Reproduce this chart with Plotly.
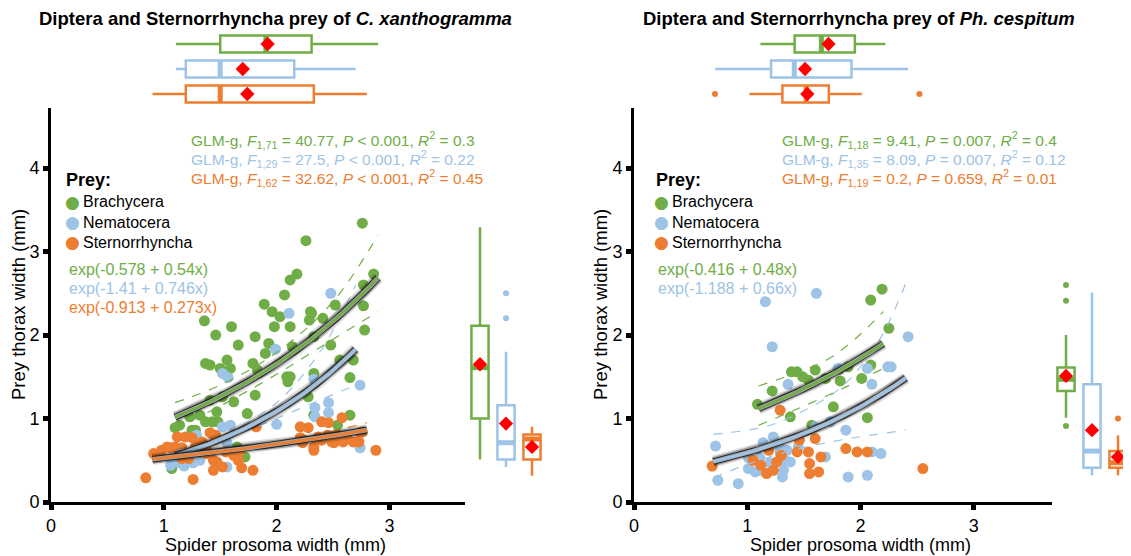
import numpy as np
import plotly.graph_objects as go

# page body has an 8px margin, so the figure is drawn 8px smaller and positions are offset
OFF = 8
W, H = 1131 - OFF, 556 - OFF
GREEN = "#70AD47"
BLUE = "#9DC3E6"
ORANGE = "#ED7D31"
RED = "#FF0000"
FONT = "Liberation Sans, Arial, sans-serif"

categories = ["Brachycera", "Nematocera", "Sternorrhyncha"]
colors = [GREEN, BLUE, ORANGE]

# ---------------- Left panel: C. xanthogramma ----------------
cx_brach_x = [2.76, 2.26, 2.18, 2.12, 2.86, 2.77, 2.07, 2.52, 2.77, 1.89, 1.96, 2.03, 2.30, 2.29, 2.41,
              1.36, 1.60, 1.98, 2.12, 1.46, 1.81, 1.66, 1.93, 1.90, 2.78, 2.33, 2.48, 2.14, 1.37, 1.41,
              1.50, 1.56, 1.59, 1.79, 1.83, 2.12, 2.10, 2.33, 2.56, 2.68, 2.65, 2.28, 1.81, 1.62, 1.41,
              1.52, 1.32, 1.23, 1.47, 1.10, 1.14, 1.37, 1.43, 1.48, 1.28, 2.33, 2.54, 2.65, 1.74, 1.65,
              1.72, 1.07, 1.25, 2.09, 2.31]
cx_brach_y = [3.34, 3.13, 2.73, 2.66, 2.73, 2.60, 2.48, 2.36, 2.35, 2.37, 2.28, 2.22, 2.28, 2.18, 2.20,
              2.17, 2.10, 2.10, 2.10, 2.00, 1.98, 1.88, 1.90, 1.78, 2.06, 1.98, 1.88, 1.86, 1.66, 1.64,
              1.60, 1.70, 1.60, 1.66, 1.58, 1.50, 1.44, 1.54, 1.70, 1.70, 1.49, 1.26, 1.28, 1.20, 1.22,
              1.26, 1.04, 1.02, 1.08, 0.89, 0.92, 0.96, 0.96, 0.96, 0.86, 1.04, 0.92, 1.04, 1.06, 0.66,
              0.54, 0.40, 0.86, 1.50, 2.26]
cx_nemat_x = [2.48, 2.11, 1.99, 1.52, 1.57, 2.33, 2.74, 2.34, 2.46, 2.46, 2.00, 1.52, 1.59, 1.29, 2.74,
              1.56, 1.06, 1.14, 1.26, 1.32, 1.20, 1.56, 2.34, 1.18, 1.09]
cx_nemat_y = [2.50, 2.26, 1.83, 1.54, 1.49, 1.47, 1.40, 1.13, 1.19, 1.07, 0.93, 0.90, 0.92, 0.80, 0.65,
              0.42, 0.44, 0.47, 0.47, 0.50, 0.56, 0.71, 1.02, 0.43, 0.52]
cx_stern_x = [0.84, 1.26, 2.88, 1.06, 1.10, 1.16, 1.12, 1.19, 1.25, 1.44, 1.82, 1.44, 1.52, 1.69, 1.79,
              1.44, 1.32, 1.38, 1.55, 1.62, 1.66, 1.16, 1.22, 1.28, 1.34, 2.21, 2.28, 2.40, 2.46, 2.58,
              2.33, 2.37, 2.45, 2.54, 2.62, 2.51, 2.59, 2.68, 2.76, 2.21, 2.23, 2.73, 0.98, 1.03, 0.91,
              1.32, 1.38, 1.47, 1.65, 1.68, 1.41, 1.46, 2.33, 2.40, 2.49, 2.24, 2.74]
cx_stern_y = [0.29, 0.27, 0.62, 0.65, 0.66, 0.65, 0.78, 0.78, 0.77, 0.80, 0.90, 0.38, 0.42, 0.41, 0.38,
              0.50, 0.60, 0.58, 0.60, 0.56, 0.50, 0.52, 0.52, 0.66, 0.72, 0.90, 0.89, 0.96, 0.95, 1.01,
              0.62, 0.78, 0.80, 0.80, 0.78, 0.71, 0.72, 0.72, 0.84, 0.77, 0.71, 0.72, 0.62, 0.66, 0.58,
              0.68, 0.62, 0.48, 0.54, 0.62, 0.83, 0.80, 0.66, 0.74, 0.72, 0.74, 0.83]

# GLM fits exp(a + b x), with fitted x-range
cx_fit_a = [-0.578, -1.41, -0.913]
cx_fit_b = [0.54, 0.746, 0.273]
cx_fit_xmin = [1.1, 1.1, 0.9]
cx_fit_xmax = [2.9, 2.7, 2.8]
# confidence bands (dashed)
cx_ci_x = [[1.1, 1.5, 2.0, 2.5, 2.9], [1.1, 1.5, 2.0, 2.4, 2.7], [0.9, 1.4, 1.9, 2.4, 2.8]]
cx_ci_up = [[1.19, 1.40, 1.79, 2.40, 3.20], [0.61, 0.78, 1.19, 1.83, 2.60], [0.54, 0.61, 0.69, 0.82, 0.95]]
cx_ci_lo = [[0.88, 1.15, 1.53, 1.95, 2.28], [0.50, 0.72, 1.00, 1.23, 1.40], [0.48, 0.57, 0.65, 0.73, 0.78]]

# box stats: spider prosoma width (top)
cx_top_lf = [1.107, 1.107, 0.90]
cx_top_q1 = [1.50, 1.195, 1.195]
cx_top_med = [1.905, 1.50, 1.50]
cx_top_q3 = [2.31, 2.156, 2.33]
cx_top_uf = [2.90, 2.70, 2.80]
cx_top_mean = [1.92, 1.70, 1.74]
cx_top_out = [[], [], []]
# box stats: prey thorax width (right)
cx_side_lf = [0.51, 0.42, 0.315]
cx_side_q1 = [1.00, 0.51, 0.51]
cx_side_med = [1.61, 0.71, 0.755]
cx_side_q3 = [2.11, 1.16, 0.81]
cx_side_uf = [3.29, 1.80, 0.90]
cx_side_mean = [1.65, 0.94, 0.66]
cx_side_out = [[], [2.50, 2.20], []]

cx_glm = ["GLM-g, <i>F</i><sub>1,71</sub> = 40.77, <i>P</i> &lt; 0.001, <i>R</i><sup>2</sup> = 0.3",
          "GLM-g, <i>F</i><sub>1,29</sub> = 27.5, <i>P</i> &lt; 0.001, <i>R</i><sup>2</sup> = 0.22",
          "GLM-g, <i>F</i><sub>1,62</sub> = 32.62, <i>P</i> &lt; 0.001, <i>R</i><sup>2</sup> = 0.45"]
cx_eq = ["exp(-0.578 + 0.54x)", "exp(-1.41 + 0.746x)", "exp(-0.913 + 0.273x)"]

# ---------------- Right panel: Ph. cespitum ----------------
ph_brach_x = [1.09, 1.22, 1.39, 1.44, 1.49, 1.54, 1.60, 1.69, 1.81, 1.89, 1.82, 2.01, 2.09, 1.38, 1.57,
              1.76, 2.06, 2.19, 2.09, 2.25]
ph_brach_y = [1.17, 1.33, 1.56, 1.56, 1.50, 1.46, 1.58, 1.48, 1.59, 1.62, 1.45, 1.48, 1.64, 1.02, 0.92,
              1.14, 1.01, 2.55, 2.42, 2.08]
ph_nemat_x = [1.16, 1.61, 1.22, 2.42, 2.24, 2.27, 2.06, 1.36, 1.80, 2.10, 0.72, 0.74, 0.92, 1.87, 1.14,
              1.23, 1.01, 1.11, 1.01, 1.07, 1.11, 1.29, 1.35, 1.33, 1.38, 1.32, 1.31, 1.20, 1.69, 1.89,
              2.06, 2.10, 2.18, 1.73, 1.60, 1.45, 1.28]
ph_nemat_y = [2.40, 2.50, 1.86, 1.98, 1.62, 1.62, 1.60, 1.41, 1.60, 1.41, 0.67, 0.26, 0.22, 0.86, 0.71,
              0.78, 0.53, 0.53, 0.40, 0.36, 0.38, 0.59, 0.62, 0.50, 0.48, 0.38, 0.30, 0.47, 0.54, 0.30,
              0.32, 0.60, 0.58, 0.96, 0.90, 0.66, 0.68]
ph_stern_x = [0.69, 1.29, 1.19, 1.26, 1.23, 1.17, 1.44, 1.46, 1.54, 1.55, 1.55, 1.60, 1.65, 1.63, 1.87,
              1.97, 2.06, 2.55, 1.05, 1.30, 1.12]
ph_stern_y = [0.43, 1.10, 0.62, 0.48, 0.38, 0.34, 0.60, 0.74, 0.60, 0.46, 0.34, 0.76, 0.54, 0.36, 0.64,
              0.60, 0.60, 0.40, 0.50, 0.56, 0.44]

ph_fit_a = [-0.416, -1.188]
ph_fit_b = [0.48, 0.66]
ph_fit_xmin = [1.1, 0.7]
ph_fit_xmax = [2.2, 2.4]
ph_ci_up_x = [[1.1, 1.4, 1.7, 1.95, 2.2], [0.7, 1.15, 1.45, 1.8, 2.0, 2.2, 2.4]]
ph_ci_up = [[1.39, 1.53, 1.70, 1.95, 2.28], [0.81, 0.90, 1.06, 1.34, 1.62, 2.02, 2.62]]
ph_ci_lo_x = [[1.1, 1.4, 1.7, 1.95, 2.2], [0.7, 1.0, 1.4, 1.9, 2.4]]
ph_ci_lo = [[0.92, 1.09, 1.27, 1.43, 1.60], [0.29, 0.45, 0.62, 0.76, 0.86]]

ph_top_lf = [1.116, 0.717, 1.02]
ph_top_q1 = [1.418, 1.21, 1.31]
ph_top_med = [1.654, 1.415, 1.52]
ph_top_q3 = [1.95, 1.92, 1.72]
ph_top_uf = [2.22, 2.418, 2.01]
ph_top_mean = [1.717, 1.51, 1.53]
ph_top_out = [[], [], [0.715, 2.52]]
ph_side_lf = [1.01, 0.32, 0.32]
ph_side_q1 = [1.33, 0.41, 0.41]
ph_side_med = [1.47, 0.61, 0.47]
ph_side_q3 = [1.61, 1.41, 0.61]
ph_side_uf = [2.00, 2.51, 0.80]
ph_side_mean = [1.51, 0.86, 0.54]
ph_side_out = [[2.60, 2.41, 0.91], [], [1.00]]

ph_glm = ["GLM-g, <i>F</i><sub>1,18</sub> = 9.41, <i>P</i> = 0.007, <i>R</i><sup>2</sup> = 0.4",
          "GLM-g, <i>F</i><sub>1,35</sub> = 8.09, <i>P</i> = 0.007, <i>R</i><sup>2</sup> = 0.12",
          "GLM-g, <i>F</i><sub>1,19</sub> = 0.2, <i>P</i> = 0.659, <i>R</i><sup>2</sup> = 0.01"]
ph_eq = ["exp(-0.416 + 0.48x)", "exp(-1.188 + 0.66x)"]

titles = ["Diptera and Sternorrhyncha prey of <i>C. xanthogramma</i>",
          "Diptera and Sternorrhyncha prey of <i>Ph. cespitum</i>"]
x_title = "Spider prosoma width (mm)"
y_title = "Prey thorax width (mm)"
legend_title = "Prey:"

# ---------------- figure ----------------
fig = go.Figure()


def px(v):
    return (v - OFF) / W


def py(v):
    return 1 - (v - OFF) / H


def add_panel(xa, ya, xs, ys, yt, pts, fits, cis_up, cis_lo, top, side):
    for i, (xv, yv) in enumerate(pts):
        fig.add_trace(go.Scatter(x=xv, y=yv, mode="markers", name=categories[i],
                                 marker=dict(color=colors[i], size=11, line=dict(width=0)),
                                 xaxis=xa, yaxis=ya, showlegend=False, hoverinfo="skip"))
    for i, (cx, cy) in enumerate(cis_up):
        fig.add_trace(go.Scatter(x=cx, y=cy, mode="lines",
                                 line=dict(color=colors[i], width=1.2, dash="dash", shape="spline"),
                                 xaxis=xa, yaxis=ya, showlegend=False, hoverinfo="skip"))
    for i, (cx, cy) in enumerate(cis_lo):
        fig.add_trace(go.Scatter(x=cx, y=cy, mode="lines",
                                 line=dict(color=colors[i], width=1.2, dash="dash", shape="spline"),
                                 xaxis=xa, yaxis=ya, showlegend=False, hoverinfo="skip"))
    a_list, b_list, xmin_list, xmax_list = fits
    for i in range(len(a_list)):
        xx = np.linspace(xmin_list[i], xmax_list[i], 60)
        yy = np.exp(a_list[i] + b_list[i] * xx)
        for w, c in [(12, "rgba(0,0,0,0.12)"), (9, "rgba(0,0,0,0.3)"), (6.5, "rgba(25,25,25,0.9)"),
                     (4.6, "rgba(165,165,165,1)")]:
            fig.add_trace(go.Scatter(x=xx, y=yy, mode="lines", line=dict(color=c, width=w),
                                     xaxis=xa, yaxis=ya, showlegend=False, hoverinfo="skip"))
        fig.add_trace(go.Scatter(x=xx, y=yy, mode="lines", line=dict(color=colors[i], width=2.8),
                                 xaxis=xa, yaxis=ya, showlegend=False, hoverinfo="skip"))
    # top boxes (horizontal)
    lf, q1, med, q3, uf, mean, outs = top
    for i in range(3):
        pos = i + 1
        fig.add_trace(go.Box(y=[pos], q1=[q1[i]], median=[med[i]], q3=[q3[i]], lowerfence=[lf[i]],
                             upperfence=[uf[i]], orientation="h", width=0.68, whiskerwidth=0,
                             line=dict(color=colors[i], width=2.5), fillcolor="white",
                             xaxis=xa, yaxis=yt, showlegend=False, hoverinfo="skip"))
        fig.add_trace(go.Scatter(x=[med[i], med[i]], y=[pos - 0.33, pos + 0.33], mode="lines",
                                 line=dict(color=colors[i], width=5), xaxis=xa, yaxis=yt,
                                 showlegend=False, hoverinfo="skip"))
        if outs[i]:
            fig.add_trace(go.Scatter(x=outs[i], y=[pos] * len(outs[i]), mode="markers",
                                     marker=dict(color=colors[i], size=6), xaxis=xa, yaxis=yt,
                                     showlegend=False, hoverinfo="skip"))
    fig.add_trace(go.Scatter(x=mean, y=[1, 2, 3], mode="markers",
                             marker=dict(color=RED, symbol="diamond", size=11), xaxis=xa, yaxis=yt,
                             showlegend=False, hoverinfo="skip"))
    # side boxes (vertical)
    lf, q1, med, q3, uf, mean, outs = side
    for i in range(3):
        pos = i + 1
        fig.add_trace(go.Box(x=[pos], q1=[q1[i]], median=[med[i]], q3=[q3[i]], lowerfence=[lf[i]],
                             upperfence=[uf[i]], orientation="v", width=0.66, whiskerwidth=0,
                             line=dict(color=colors[i], width=2.5), fillcolor="white",
                             xaxis=xs, yaxis=ya, showlegend=False, hoverinfo="skip"))
        fig.add_trace(go.Scatter(x=[pos - 0.32, pos + 0.32], y=[med[i], med[i]], mode="lines",
                                 line=dict(color=colors[i], width=5), xaxis=xs, yaxis=ya,
                                 showlegend=False, hoverinfo="skip"))
        if outs[i]:
            fig.add_trace(go.Scatter(x=[pos] * len(outs[i]), y=outs[i], mode="markers",
                                     marker=dict(color=colors[i], size=6), xaxis=xs, yaxis=ya,
                                     showlegend=False, hoverinfo="skip"))
    fig.add_trace(go.Scatter(x=[1, 2, 3], y=mean, mode="markers",
                             marker=dict(color=RED, symbol="diamond", size=11), xaxis=xs, yaxis=ya,
                             showlegend=False, hoverinfo="skip"))


add_panel("x", "y", "x2", "y", "y2",
          [(cx_brach_x, cx_brach_y), (cx_nemat_x, cx_nemat_y), (cx_stern_x, cx_stern_y)],
          (cx_fit_a, cx_fit_b, cx_fit_xmin, cx_fit_xmax),
          list(zip(cx_ci_x, cx_ci_up)), list(zip(cx_ci_x, cx_ci_lo)),
          (cx_top_lf, cx_top_q1, cx_top_med, cx_top_q3, cx_top_uf, cx_top_mean, cx_top_out),
          (cx_side_lf, cx_side_q1, cx_side_med, cx_side_q3, cx_side_uf, cx_side_mean, cx_side_out))
add_panel("x3", "y3", "x4", "y3", "y4",
          [(ph_brach_x, ph_brach_y), (ph_nemat_x, ph_nemat_y), (ph_stern_x, ph_stern_y)],
          (ph_fit_a, ph_fit_b, ph_fit_xmin, ph_fit_xmax),
          list(zip(ph_ci_up_x, ph_ci_up)), list(zip(ph_ci_lo_x, ph_ci_lo)),
          (ph_top_lf, ph_top_q1, ph_top_med, ph_top_q3, ph_top_uf, ph_top_mean, ph_top_out),
          (ph_side_lf, ph_side_q1, ph_side_med, ph_side_q3, ph_side_uf, ph_side_mean, ph_side_out))

main_x = dict(showline=True, linecolor="black", linewidth=3, ticks="outside", tickvals=[0, 1, 2, 3],
              ticklen=5, tickwidth=5, tickcolor="black", showgrid=False, zeroline=False,
              automargin=False, tickfont=dict(size=18, color="black", family=FONT))
main_y = dict(showline=True, linecolor="black", linewidth=3, ticks="outside", tickvals=[0, 1, 2, 3, 4],
              ticklen=5, tickwidth=5, tickcolor="black", showgrid=False, zeroline=False,
              automargin=False, tickfont=dict(size=18, color="black", family=FONT), range=[0, 4.72])
hidden = dict(visible=False, showgrid=False, zeroline=False, automargin=False)

fig.update_layout(
    template="none",
    width=W, height=H, margin=dict(l=0, r=0, t=0, b=0, pad=0), autosize=False,
    paper_bgcolor="white", plot_bgcolor="white", showlegend=False,
    font=dict(family=FONT, color="black"),
    xaxis=dict(main_x, domain=[px(51), px(465)], range=[0, 3.67], anchor="y"),
    yaxis=dict(main_y, domain=[py(502), py(108)], anchor="x"),
    xaxis2=dict(hidden, domain=[px(467), px(545)], range=[0.5, 3.5], anchor="y"),
    yaxis2=dict(hidden, domain=[py(106.5), py(31.5)], range=[3.5, 0.5], anchor="x"),
    xaxis3=dict(main_x, domain=[px(634), px(1052)], range=[0, 3.69], anchor="y3"),
    yaxis3=dict(main_y, domain=[py(502), py(108)], anchor="x3"),
    xaxis4=dict(hidden, domain=[px(1053), 1.0], range=[0.5, 3.5], anchor="y3"),
    yaxis4=dict(hidden, domain=[py(106.5), py(31.5)], range=[3.5, 0.5], anchor="x3"),
)

ann = []


def text(xp, yp, t, size=15, color="black", xanchor="left", angle=0, family=FONT):
    ann.append(dict(x=px(xp), y=py(yp), xref="paper", yref="paper", text=t, showarrow=False,
                    xanchor=xanchor, yanchor="middle", textangle=angle, borderpad=0,
                    font=dict(size=size, color=color, family=family)))


text(38, 18, "<b>" + titles[0] + "</b>", size=18.5)
text(642, 18, "<b>" + titles[1] + "</b>", size=18.5)
for i, t in enumerate(cx_glm):
    text(190, 140 + 19 * i, t, size=15.5, color=colors[i])
for i, t in enumerate(ph_glm):
    text(781, 140 + 19 * i, t, size=15.5, color=colors[i])
for i, t in enumerate(cx_eq):
    text(68, 269 + 19 * i, t, size=16, color=colors[i])
for i, t in enumerate(ph_eq):
    text(657, 269 + 19 * i, t, size=16, color=colors[i])
# legends
for lx, dx in [(65, 72), (655, 661)]:
    text(lx, 180, "<b>" + legend_title + "</b>", size=18)
    for i, name in enumerate(categories):
        yy = 202 + 20 * i
        text(dx, yy, "\u25CF", size=17, color=colors[i], xanchor="center", family="DejaVu Sans")
        text(dx + 10, yy, name, size=16)
text(18, 305, y_title, size=18.5, xanchor="center", angle=-90)
text(600, 305, y_title, size=18.5, xanchor="center", angle=-90)
text(275, 545, x_title, size=18, xanchor="center")
text(860, 545, x_title, size=18, xanchor="center")
fig.update_layout(annotations=ann)

fig.write_html("out.html")
